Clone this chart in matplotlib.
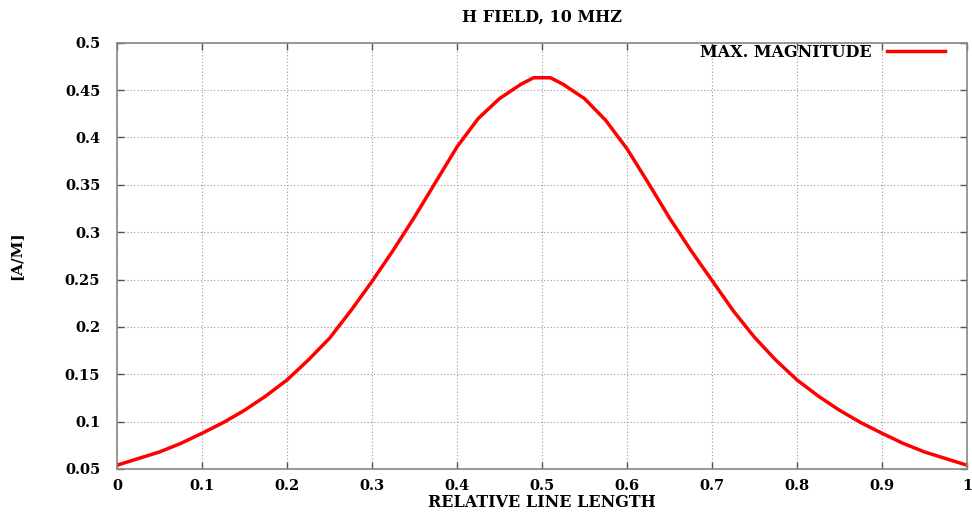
import matplotlib
matplotlib.use("Agg")
import matplotlib.pyplot as plt

x_pos = [0.0, 0.025, 0.05, 0.075, 0.1, 0.125, 0.15, 0.175, 0.2, 0.225, 0.25, 0.275,
         0.3, 0.325, 0.35, 0.375, 0.4, 0.425, 0.45, 0.475, 0.49, 0.51, 0.525, 0.55,
         0.575, 0.6, 0.625, 0.65, 0.675, 0.7, 0.725, 0.75, 0.775, 0.8, 0.825, 0.85,
         0.875, 0.9, 0.925, 0.95, 0.975, 1.0]
h_mag = [0.054, 0.061, 0.068, 0.077, 0.0877, 0.099, 0.112, 0.127, 0.144, 0.165, 0.188, 0.217,
         0.248, 0.281, 0.316, 0.353, 0.390, 0.420, 0.441, 0.456, 0.463, 0.463, 0.456, 0.441,
         0.418, 0.388, 0.352, 0.315, 0.281, 0.249, 0.217, 0.189, 0.165, 0.144, 0.127, 0.112,
         0.099, 0.0877, 0.077, 0.068, 0.061, 0.054]

x_ticks = [0.0, 0.1, 0.2, 0.3, 0.4, 0.5, 0.6, 0.7, 0.8, 0.9, 1.0]
x_tick_labels = ["0", "0.1", "0.2", "0.3", "0.4", "0.5", "0.6", "0.7", "0.8", "0.9", "1"]
y_ticks = [0.05, 0.1, 0.15, 0.2, 0.25, 0.3, 0.35, 0.4, 0.45, 0.5]
y_tick_labels = ["0.05", "0.1", "0.15", "0.2", "0.25", "0.3", "0.35", "0.4", "0.45", "0.5"]

title = "H FIELD, 10 MHZ"
xlabel = "RELATIVE LINE LENGTH"
ylabel = "[A/M]"
legend_label = "MAX. MAGNITUDE"

plt.rcParams['font.family'] = ['DejaVu Serif']

fig = plt.figure(figsize=(9.72, 5.13), dpi=100)
ax = fig.add_axes([117/972, 1-469/513, (967-117)/972, (469-42.7)/513])

ax.plot(x_pos, h_mag, color='#ff0000', linewidth=2.5, label=legend_label,
        solid_joinstyle='round')

ax.set_xticks(x_ticks)
ax.set_xticklabels(x_tick_labels)
ax.set_yticks(y_ticks)
ax.set_yticklabels(y_tick_labels)
ax.set_xlim(0, 1)
ax.set_ylim(0.05, 0.5)

ax.grid(True, color='#9a9a9a', linestyle=(0, (1, 2)), linewidth=0.8)
ax.tick_params(direction='in', length=5, width=1, color='#555555', top=True, right=True,
               labelsize=10.5)
ax.tick_params(axis='y', pad=12)
ax.tick_params(axis='x', pad=7)
for lab in ax.get_xticklabels() + ax.get_yticklabels():
    lab.set_fontweight('bold')
for s in ax.spines.values():
    s.set_color('#888888')
    s.set_linewidth(1.2)

ax.set_title(title, fontsize=11.5, fontweight='bold', pad=15)
ax.set_xlabel(xlabel, fontsize=11.5, fontweight='bold', labelpad=1)
ax.set_ylabel(ylabel, fontsize=11, fontweight='bold', labelpad=30)

leg = ax.legend(loc='upper right', bbox_to_anchor=(0.974, 0.997), frameon=False,
                prop={'size': 11.5, 'weight': 'bold'}, borderpad=0,
                markerfirst=False, handlelength=3.6, borderaxespad=0, handletextpad=1.0)

fig.savefig("out.png", dpi=100)
